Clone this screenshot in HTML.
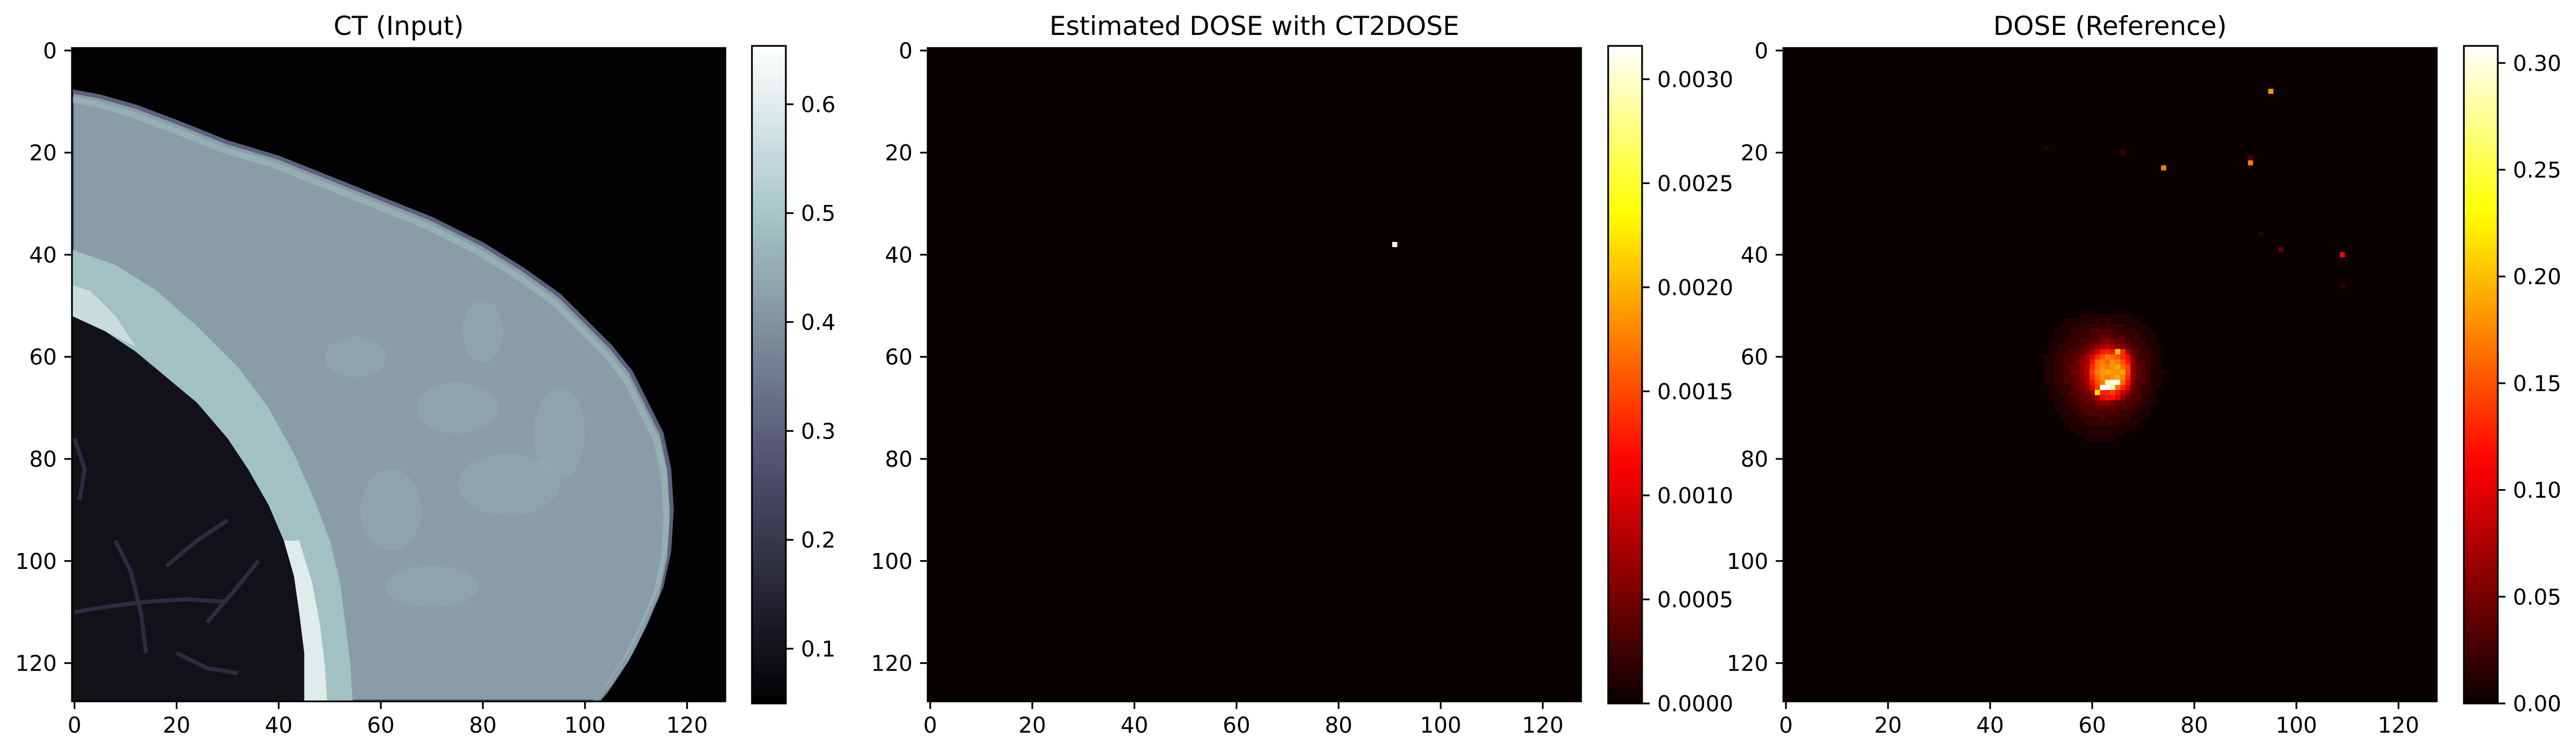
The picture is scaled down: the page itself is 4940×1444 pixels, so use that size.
<!DOCTYPE html>
<html><head><meta charset="utf-8">
<style>
html,body{margin:0;padding:0;background:#fff;}
svg{display:block;}
text{font-family:"DejaVu Sans","Liberation Sans",sans-serif;fill:#000;}
</style></head>
<body>
<svg id="fig" xmlns="http://www.w3.org/2000/svg" width="4940" height="1444" viewBox="0 0 4940 1444"></svg>
<script>
// ---- data ----
const axisTicks = [0,20,40,60,80,100,120];
const ctCbarTicks = [0.1,0.2,0.3,0.4,0.5,0.6];
const ctCbarLabels = ["0.1","0.2","0.3","0.4","0.5","0.6"];
const ctRange = [0.0497,0.6536];
const estCbarTicks = [0,0.0005,0.001,0.0015,0.002,0.0025,0.003];
const estCbarLabels = ["0.0000","0.0005","0.0010","0.0015","0.0020","0.0025","0.0030"];
const estRange = [0,0.00316];
const estPointsX = [91];
const estPointsY = [38];
const estPointsV = [0.00316];
const refCbarTicks = [0,0.05,0.1,0.15,0.2,0.25,0.3];
const refCbarLabels = ["0.00","0.05","0.10","0.15","0.20","0.25","0.30"];
const refRange = [0,0.308];
// isolated dose spots
const refSpotX = [95,74,91,109,97,66,51,93,109,91];
const refSpotY = [8,23,22,40,39,20,19,36,46,21];
const refSpotV = [0.18,0.17,0.17,0.11,0.04,0.02,0.01,0.015,0.015,0.03];
// hotspot block: rows y=52..76, cols x=51..75, values in 0.01 units
const hotX0 = 51, hotY0 = 52;
const hotRows = [
[0,0,0,0,0,0,0,1,1,1,1,1,1,1,1,1,1,0,0,0,0,0,0,0,0],
[0,0,0,0,1,1,1,1,1,1,2,1,2,1,1,1,1,1,1,0,0,0,0,0,0],
[0,0,0,1,1,1,1,2,2,2,2,2,2,2,2,2,1,1,1,1,0,0,0,0,0],
[0,0,1,1,1,2,2,2,2,3,3,3,3,3,2,2,2,2,1,1,1,0,0,0,0],
[0,0,1,1,1,2,2,2,2,3,3,4,4,3,3,3,2,2,2,1,1,1,0,0,0],
[0,1,1,1,2,2,2,3,3,3,4,5,6,5,4,4,3,2,2,2,1,1,0,0,0],
[0,1,1,2,2,2,3,3,4,5,6,7,8,7,6,5,4,3,2,2,1,1,1,0,0],
[0,1,1,2,2,3,3,4,5,7,9,12,13,12,21,13,7,4,3,2,2,1,1,0,0],
[1,1,2,2,3,3,4,5,7,10,13,15,17,16,15,13,11,5,3,2,2,1,1,0,0],
[1,1,2,2,3,3,4,6,7,12,16,17,16,18,17,15,12,6,3,3,2,1,1,0,0],
[1,1,2,2,3,4,4,6,8,13,16,18,17,18,19,16,14,6,4,3,2,1,1,0,0],
[1,1,2,2,3,4,5,6,8,14,17,18,19,18,18,19,14,6,4,3,2,1,1,1,0],
[1,1,2,2,3,3,4,6,7,13,16,18,17,18,19,17,13,6,4,3,2,1,1,0,0],
[1,1,2,2,3,3,4,5,7,12,15,17,28,31,30,16,12,5,3,3,2,1,1,0,0],
[0,1,1,2,2,3,4,5,6,10,14,31,31,27,16,13,10,4,3,2,2,1,1,0,0],
[0,1,1,2,2,3,3,4,5,6,22,13,13,14,12,9,6,4,3,2,2,1,0,0,0],
[0,1,1,1,2,2,3,4,4,5,7,11,12,12,10,6,4,3,3,2,1,1,0,0,0],
[0,0,1,1,2,2,3,3,4,4,5,6,6,5,4,4,3,3,2,2,1,1,0,0,0],
[0,0,1,1,1,2,2,3,3,3,4,4,4,4,3,3,3,2,2,1,1,0,0,0,0],
[0,0,0,1,1,1,2,2,3,3,3,3,3,3,3,2,2,2,1,1,1,0,0,0,0],
[0,0,0,1,1,1,1,2,2,2,2,3,2,2,2,2,2,1,1,1,0,0,0,0,0],
[0,0,0,0,1,1,1,1,2,2,2,2,2,2,2,1,1,1,1,0,0,0,0,0,0],
[0,0,0,0,0,1,1,1,1,1,1,1,1,1,1,1,1,1,0,0,0,0,0,0,0],
[0,0,0,0,0,0,1,1,1,1,1,1,1,1,1,1,0,0,0,0,0,0,0,0,0],
[0,0,0,0,0,0,0,0,1,1,1,1,1,1,0,0,0,0,0,0,0,0,0,0,0]];

// ---- layout ----
const NS="http://www.w3.org/2000/svg";
const fig=document.getElementById('fig');
const AX_TOP=92, AX_SIZE=1253, CB_TOP=88, CB_BOT=1349, CB_W=65;
const panels=[{left:138,cb:1442,title:"CT (Input)"},{left:1779,cb:3084,title:"Estimated DOSE with CT2DOSE"},{left:3420,cb:4725,title:"DOSE (Reference)"}];
function el(tag,attrs,parent){const e=document.createElementNS(NS,tag);for(const k in attrs)e.setAttribute(k,attrs[k]);(parent||fig).appendChild(e);return e;}
function interp(pts,t){for(let i=1;i<pts.length;i++){if(t<=pts[i][0]){const a=pts[i-1],b=pts[i];return a[1]+(b[1]-a[1])*(t-a[0])/(b[0]-a[0]);}}return pts[pts.length-1][1];}
function clamp(t){return Math.max(0,Math.min(1,t));}
function bone(t){t=clamp(t);const r=interp([[0,0],[0.746,0.652],[1,1]],t),g=interp([[0,0],[0.365,0.319],[0.746,0.777],[1,1]],t),b=interp([[0,0],[0.365,0.444],[1,1]],t);return `rgb(${Math.round(r*255)},${Math.round(g*255)},${Math.round(b*255)})`;}
function hot(t){t=clamp(t);const r=interp([[0,0.0416],[0.365,1],[1,1]],t),g=interp([[0,0],[0.365,0],[0.746,1],[1,1]],t),b=interp([[0,0],[0.746,0],[1,1]],t);return `rgb(${Math.round(r*255)},${Math.round(g*255)},${Math.round(b*255)})`;}
const ctc=v=>bone((v-ctRange[0])/(ctRange[1]-ctRange[0]));
const xPix=(left,v)=>left+(v+0.5)*AX_SIZE/128;
const yPix=v=>AX_TOP+(v+0.5)*AX_SIZE/128;

function axes(p,i){
  const t=el('text',{x:p.left+AX_SIZE/2,y:67,'font-size':50,'text-anchor':'middle'});
  
  
  t.textContent=p.title;
  axisTicks.forEach(v=>{
    const x=xPix(p.left,v),y=yPix(v);
    const tx=el('line',{x1:x,x2:x,y1:AX_TOP+AX_SIZE,y2:AX_TOP+AX_SIZE+14.6,stroke:'#000','stroke-width':3.3});
    
    
    const lx=el('text',{x:x,y:AX_TOP+AX_SIZE+29+31,'font-size':41.7,'text-anchor':'middle'});
    
    
    lx.textContent=v;
    const ty=el('line',{x1:p.left-14.6,x2:p.left,y1:y,y2:y,stroke:'#000','stroke-width':3.3});
    
    
    const ly=el('text',{x:p.left-29,y:y+15,'font-size':41.7,'text-anchor':'end'});
    
    
    ly.textContent=v;
  });
}
function imgSvg(p,i){
  const s=el('svg',{x:p.left,y:AX_TOP,width:AX_SIZE,height:AX_SIZE,viewBox:'-0.5 -0.5 128 128',preserveAspectRatio:'none'});
  
  
  return s;
}
function frame(p,i){
  const r=el('rect',{x:p.left,y:AX_TOP,width:AX_SIZE,height:AX_SIZE,fill:'none',stroke:'#000','stroke-width':3.3});
  
  
}
function colorbar(p,i,cmap,range,ticks,labels){
  const id='grad'+i;
  const defs=el('defs',{});
  const g=el('linearGradient',{id:id,x1:0,y1:1,x2:0,y2:0},defs);
  for(let k=0;k<=40;k++){el('stop',{offset:k/40,'stop-color':cmap(k/40)},g);}
  const r=el('rect',{x:p.cb,y:CB_TOP,width:CB_W,height:CB_BOT-CB_TOP,fill:`url(#${id})`,stroke:'#000','stroke-width':3.3});
  
  
  ticks.forEach((v,k)=>{
    const y=CB_BOT-(v-range[0])/(range[1]-range[0])*(CB_BOT-CB_TOP);
    const tl=el('line',{x1:p.cb+CB_W,x2:p.cb+CB_W+14.6,y1:y,y2:y,stroke:'#000','stroke-width':3.3});
    
    
    const lt=el('text',{x:p.cb+CB_W+29,y:y+15,'font-size':41.7});
    
    
    lt.textContent=labels[k];
  });
}

// ---- Panel 1: CT ----
{
 const p=panels[0]; const s=imgSvg(p,0);
 el('rect',{x:-0.5,y:-0.5,width:128,height:128,fill:ctc(0.055)},s);
 const skin=[[-0.5,8],[5,9],[12,11],[20,14],[30,18],[40,21],[50,25],[60,29],[70,33],[80,38],[88,43],[95,48],[100,53],[105,58],[109,63],[112,69],[115,75],[116.5,82],[117,90],[116.5,98],[115,105],[112,112],[109,118],[105,124],[102,127.5],[-0.5,127.5]];
 const pts=a=>a.map(q=>q.join(',')).join(' ');
 const body=el('polygon',{points:pts(skin),fill:ctc(0.42),stroke:ctc(0.3),'stroke-width':0.8,'stroke-linejoin':'round'},s);
 
 
 const rimIn=skin.slice(0,25).map(q=>[q[0]-1.0,q[1]+1.4]);
 el('polyline',{points:pts(rimIn),fill:'none',stroke:ctc(0.47),'stroke-width':1.2,opacity:0.7},s);
 const blobs=[[75,70,8,5],[85,85,10,6],[62,90,6,8],[95,75,5,9],[70,105,9,4],[55,60,6,4],[80,55,4,6]];
 blobs.forEach(b=>el('ellipse',{cx:b[0],cy:b[1],rx:b[2],ry:b[3],fill:ctc(0.46),opacity:0.3},s));
 const A=[[-0.5,39],[8,42],[16,47],[24,54],[32,62],[38,70],[43,79],[47,88],[50,96],[52,104],[53,112],[54,120],[54.5,127.5]];
 const B=[[-0.5,52],[6,55],[12,59],[18,64],[24,69],[30,76],[34,82],[38,89],[41,96],[43,103],[44,110],[45,118],[45,127.5]];
 const band=el('polygon',{points:pts(A.concat(B.slice().reverse())),fill:ctc(0.49)},s);
 
 
 el('polygon',{points:pts([[41,96],[44,96],[46.5,104],[48,112],[49,120],[49.5,127.5],[45,127.5],[44,110]]),fill:ctc(0.6)},s);
 el('polygon',{points:pts([[-0.5,46],[3,47],[8,52],[12,58],[6,55],[-0.5,52]]),fill:ctc(0.56)},s);
 const lung=el('polygon',{points:pts(B.concat([[-0.5,127.5]])),fill:ctc(0.095)},s);
 
 
 const ves=[[[0,110],[6,109],[14,108],[22,107.5],[30,108]],[[8,96],[11,102],[13,110],[14,118]],[[18,101],[24,96],[30,92]],[[20,118],[26,121],[32,122]],[[0,76],[2,82],[1,88]],[[26,112],[32,105],[36,100]]];
 ves.forEach(v=>el('polyline',{points:pts(v),fill:'none',stroke:ctc(0.17),'stroke-width':0.8},s));
 frame(p,0); axes(p,0);
 colorbar(p,0,bone,ctRange,ctCbarTicks,ctCbarLabels);
}
// ---- Panel 2: estimated dose ----
{
 const p=panels[1]; const s=imgSvg(p,1);
 el('rect',{x:-0.5,y:-0.5,width:128,height:128,fill:hot(0)},s);
 estPointsX.forEach((x,k)=>{
  const r=el('rect',{x:x-0.5,y:estPointsY[k]-0.5,width:1,height:1,fill:hot((estPointsV[k]-estRange[0])/(estRange[1]-estRange[0]))},s);
  
  
 });
 frame(p,1); axes(p,1);
 colorbar(p,1,hot,estRange,estCbarTicks,estCbarLabels);
}
// ---- Panel 3: reference dose ----
{
 const p=panels[2]; const s=imgSvg(p,2);
 el('rect',{x:-0.5,y:-0.5,width:128,height:128,fill:hot(0)},s);
 const norm=v=>(v-refRange[0])/(refRange[1]-refRange[0]);
 hotRows.forEach((row,r)=>row.forEach((v,c)=>{
  if(!v)return;
  const cell=el('rect',{x:hotX0+c-0.5,y:hotY0+r-0.5,width:1.02,height:1.02,fill:hot(norm(v*0.01))},s);
  
  
 }));
 refSpotX.forEach((x,k)=>{
  const r=el('rect',{x:x-0.5,y:refSpotY[k]-0.5,width:1,height:1,fill:hot(norm(refSpotV[k]))},s);
  
  
 });
 frame(p,2); axes(p,2);
 colorbar(p,2,hot,refRange,refCbarTicks,refCbarLabels);
}
</script>
</body></html>
